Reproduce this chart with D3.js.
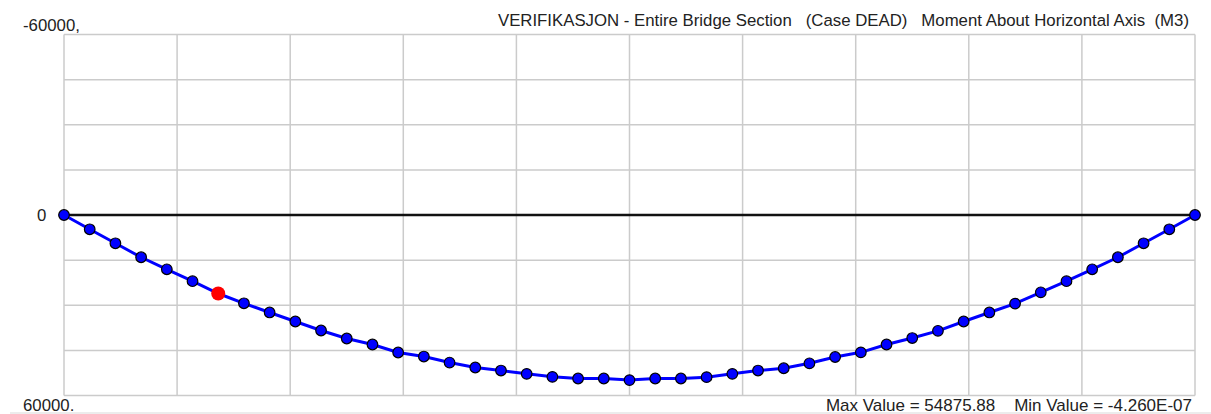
<!DOCTYPE html>
<html>
<head>
<meta charset="utf-8">
<script src="https://cdn.jsdelivr.net/npm/d3@7"></script>
<style>
  html, body { margin: 0; padding: 0; background: #fff; }
  svg { display: block; }
  text { font-family: "Liberation Sans", Arial, sans-serif; fill: #222; }
</style>
</head>
<body>
<svg id="chart" width="1211" height="414"></svg>
<script>
// ---- data ----
const stations = d3.range(0, 45);
const moments = [
  0, 4750, 9400, 14050, 18050, 22000, 26100, 29350, 32400, 35400,
  38400, 41050, 43050, 45700, 47050, 49050, 50700, 51700, 52800, 53800,
  54350, 54350, 54876, 54350, 54350, 53900, 52800, 51700, 50950, 49300,
  47200, 45650, 43050, 40900, 38500, 35400, 32400, 29450, 25700, 22000,
  18050, 14050, 9400, 4750, 0
];
const highlightIndex = [6];
const yTickValues = [-60000, 0, 60000];
const yTickLabels = ["-60000,", "0", "60000."];
const titleText = "VERIFIKASJON - Entire Bridge Section   (Case DEAD)   Moment About Horizontal Axis  (M3)";
const footerText = "Max Value = 54875.88    Min Value = -4.260E-07";

// ---- layout ----
const svg = d3.select("#chart");
const plotLeft = 64, plotRight = 1195, plotTop = 34.5, plotBottom = 395.5;

const x = d3.scaleLinear().domain([0, 44]).range([plotLeft, plotRight]);
const y = d3.scaleLinear().domain([-60000, 60000]).range([plotTop, plotBottom]);

// grid
const grid = svg.append("g").attr("stroke", "#cbcbcb").attr("stroke-width", 1.5);
const xGrid = d3.range(0, 11).map(i => i * 4.4);
grid.selectAll("line.v").data(xGrid).enter().append("line")
  .attr("x1", d => x(d)).attr("x2", d => x(d))
  .attr("y1", plotTop).attr("y2", plotBottom);
const yGrid = d3.range(-60000, 60001, 15000);
grid.selectAll("line.h").data(yGrid).enter().append("line")
  .attr("x1", plotLeft).attr("x2", plotRight)
  .attr("y1", d => y(d)).attr("y2", d => y(d));

// faint bottom rule
svg.append("line").attr("x1", 10).attr("x2", 1211).attr("y1", 413).attr("y2", 413)
  .attr("stroke", "#e6e6e6").attr("stroke-width", 1.5);

// zero line
svg.append("line")
  .attr("x1", x(0)).attr("x2", x(44))
  .attr("y1", y(0)).attr("y2", y(0))
  .attr("stroke", "#111").attr("stroke-width", 2.5);

// curve
const line = d3.line().x((d, i) => x(stations[i])).y(d => y(d));
svg.append("path").datum(moments)
  .attr("d", line)
  .attr("fill", "none")
  .attr("stroke", "#0000ff")
  .attr("stroke-width", 3);

// markers
svg.append("g").selectAll("circle").data(moments).enter().append("circle")
  .attr("cx", (d, i) => x(stations[i]))
  .attr("cy", d => y(d))
  .attr("r", 5.3)
  .attr("fill", "#0000ff")
  .attr("stroke", "#000")
  .attr("stroke-width", 1.2);

svg.append("g").selectAll("circle").data(highlightIndex).enter().append("circle")
  .attr("cx", i => x(stations[i]))
  .attr("cy", i => y(moments[i]))
  .attr("r", 7)
  .attr("fill", "#ff0000");

// y labels
const yLabelPos = [
  { x: 23, yv: 31 },
  { x: 37, yv: 221 },
  { x: 23, yv: 411 }
];
svg.append("g").selectAll("text").data(yTickValues).enter().append("text")
  .attr("x", (d, i) => yLabelPos[i].x)
  .attr("y", (d, i) => yLabelPos[i].yv)
  .attr("font-size", 16.8)
  .text((d, i) => yTickLabels[i]);

// title
svg.append("text")
  .attr("x", 1189).attr("y", 26)
  .attr("text-anchor", "end")
  .attr("font-size", 16.8)
  .style("white-space", "pre")
  .text(titleText);

// footer
svg.append("text")
  .attr("x", 1192).attr("y", 411)
  .attr("text-anchor", "end")
  .attr("font-size", 17)
  .style("white-space", "pre")
  .text(footerText);
</script>
</body>
</html>
